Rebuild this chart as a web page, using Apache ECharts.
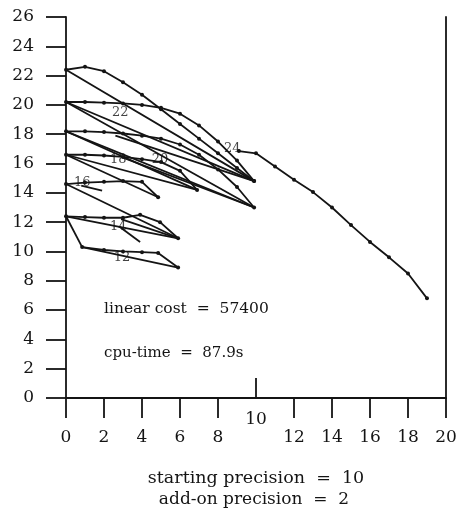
<!DOCTYPE html>
<html>
<head>
<meta charset="utf-8">
<script src="https://cdn.jsdelivr.net/npm/echarts@6/dist/echarts.min.js"></script>
<style>html,body{margin:0;padding:0;background:#fff}#c{width:461px;height:525px}</style>
</head>
<body>
<div id="c"></div>
<script>
// ---- axis values ----
const xTicks = [0, 2, 4, 6, 8, 12, 14, 16, 18, 20];
const xMidTick = [10];
const yRange = [0, 26];
const yStep = 2;

// ---- traced paths (x, y) ----
const lvl22Dots = [[0,22.4],[1,22.6],[2,22.3],[3,21.55],[4,20.7],[5,19.7],[6,18.7],[7,17.7],[8,16.7],[9,15.7],[9.9,14.8]];
const lvl22Chord = [[0,22.4],[9.9,14.8]];
const lvl20Dots = [[0,20.2],[1,20.2],[2,20.15],[3,20.1],[4,20.0],[5,19.8],[6,19.4],[7,18.6],[8,17.5],[9,16.2],[9.9,14.8]];
const lvl20Chord = [[0,20.2],[9.9,13.0]];
const lvl20Chord2 = [[0,20.2],[9.9,14.8]];
const lvl18Dots = [[0,18.2],[1,18.2],[2,18.15],[3,18.05],[4,17.9],[5,17.7],[6,17.3],[7,16.6],[8,15.6],[9,14.4],[9.9,13.0]];
const lvl18Chord = [[0,18.2],[6.9,14.2]];
const lvl18Chord2 = [[0,18.2],[9.9,13.0]];
const lvl18Return = [[2.6,17.9],[9.9,14.8]];
const lvl16Dots = [[0,16.6],[1,16.6],[2,16.55],[3,16.45],[4,16.3],[5,16.1],[6,15.5],[6.9,14.2]];
const lvl16Chord = [[0,16.6],[4.85,13.7]];
const lvl16Chord2 = [[0,16.6],[6.9,14.2]];
const lvl16Return = [[3,16.4],[9.9,13.0]];
const lvl14Dots = [[0,14.6],[1,14.7],[2,14.75],[3,14.8],[4,14.75],[4.85,13.7]];
const lvl14Stub = [[0.8,14.5],[1.9,14.15]];
const lvl14Chord = [[0,14.6],[5.9,10.9]];
const lvl12Dots = [[0,12.4],[1,12.35],[2,12.3],[3,12.3],[3.9,12.5],[4.95,12.0],[5.9,10.9]];
const lvl12Chord = [[0,12.4],[5.9,10.9]];
const lvl12Inner = [[2.9,12.2],[5.9,10.9]];
const lvl12Stub = [[2.8,11.7],[3.9,10.65]];
const lvl12Drop = [[0,12.4],[0.85,10.3]];
const lvl10Dots = [[0.85,10.3],[2,10.1],[3,10.0],[4,9.95],[4.85,9.9],[5.9,8.9]];
const lvl10Chord = [[0.85,10.3],[5.9,8.9]];
const tail24 = [[9.1,16.85],[10,16.7],[11,15.8],[12,14.9],[13,14.05],[14,13.0],[15,11.8],[16,10.65],[17,9.6],[18,8.5],[19,6.8]];

// ---- in-plot precision labels ----
const precLabelText = ['10','12','14','16','18','20','22','24'];
const precLabelPos = [[-0.2,10.6],[2.95,9.55],[2.75,11.7],[0.85,14.7],[2.75,16.25],[4.95,16.25],[2.85,19.5],[8.75,17.05]];

const dotted = [lvl22Dots, lvl20Dots, lvl18Dots, lvl16Dots, lvl14Dots, lvl12Dots, lvl10Dots, tail24];
const plain = [lvl22Chord, lvl20Chord, lvl20Chord2, lvl18Chord, lvl18Chord2, lvl18Return, lvl16Chord, lvl16Chord2, lvl16Return,
  lvl14Stub, lvl14Chord, lvl12Chord, lvl12Inner, lvl12Stub, lvl12Drop, lvl10Chord];

const FONT = '"DejaVu Serif", "Liberation Serif", serif';
const INK = '#141414';

const series = [];
dotted.forEach(d => series.push({
  type: 'line', data: d, symbol: 'circle', symbolSize: 4, showSymbol: true,
  lineStyle: { color: INK, width: 1.8 }, itemStyle: { color: INK }, silent: true, z: 3
}));
plain.forEach(d => series.push({
  type: 'line', data: d, showSymbol: false, symbol: 'none',
  lineStyle: { color: INK, width: 1.8 }, silent: true, z: 3
}));
series.push({
  type: 'scatter', symbolSize: 0, z: 5,
  data: precLabelPos.map((p, i) => ({ value: p, name: precLabelText[i] })),
  label: { show: true, position: 'inside', formatter: p => p.name, fontFamily: FONT, fontSize: 13, color: INK }
});

const chart = echarts.init(document.getElementById('c'), null, { renderer: 'canvas' });
chart.setOption({
  animation: false,
  backgroundColor: '#fff',
  grid: { left: 66, right: 15, top: 17, bottom: 127, containLabel: false },
  xAxis: [{
    type: 'value', min: 0, max: 20, interval: 2, position: 'bottom',
    axisLine: { show: true, onZero: false, lineStyle: { color: INK, width: 1.8 } },
    axisTick: { show: true, inside: false, length: 20, customValues: xTicks, lineStyle: { color: INK, width: 1.8 } },
    axisLabel: { customValues: xTicks, margin: 31, fontFamily: FONT, fontSize: 17, color: INK },
    splitLine: { show: false }
  }, {
    type: 'value', min: 0, max: 20, interval: 2, position: 'bottom',
    axisLine: { show: false },
    axisTick: { show: true, inside: true, length: 20, customValues: xMidTick, lineStyle: { color: INK, width: 1.8 } },
    axisLabel: { customValues: xMidTick, margin: 13, fontFamily: FONT, fontSize: 17, color: INK },
    splitLine: { show: false }
  }],
  yAxis: [{
    type: 'value', min: yRange[0], max: yRange[1], interval: yStep, position: 'left',
    axisLine: { show: true, onZero: false, lineStyle: { color: INK, width: 1.8 } },
    axisTick: { show: true, inside: false, length: 20, lineStyle: { color: INK, width: 1.8 } },
    axisLabel: { margin: 32, fontFamily: FONT, fontSize: 17, color: INK },
    splitLine: { show: false }
  }, {
    type: 'value', min: yRange[0], max: yRange[1], interval: yStep, position: 'right',
    axisLine: { show: true, onZero: false, lineStyle: { color: INK, width: 1.8 } },
    axisTick: { show: false }, axisLabel: { show: false }, splitLine: { show: false }
  }],
  series: series,
  graphic: [
    { type: 'text', left: 104, top: 301, style: { text: 'linear cost  =  57400', font: '15.5px ' + FONT, fill: INK } },
    { type: 'text', left: 104, top: 346, style: { text: 'cpu-time  =  87.9s', font: '15px ' + FONT, fill: INK } },
    { type: 'text', x: 256, y: 478, style: { text: 'starting precision  =  10', font: '17.5px ' + FONT, fill: INK, align: 'center', verticalAlign: 'middle' } },
    { type: 'text', x: 254, y: 500, style: { text: 'add-on precision  =  2', font: '17px ' + FONT, fill: INK, align: 'center', verticalAlign: 'middle' } }
  ]
});
</script>
</body>
</html>
